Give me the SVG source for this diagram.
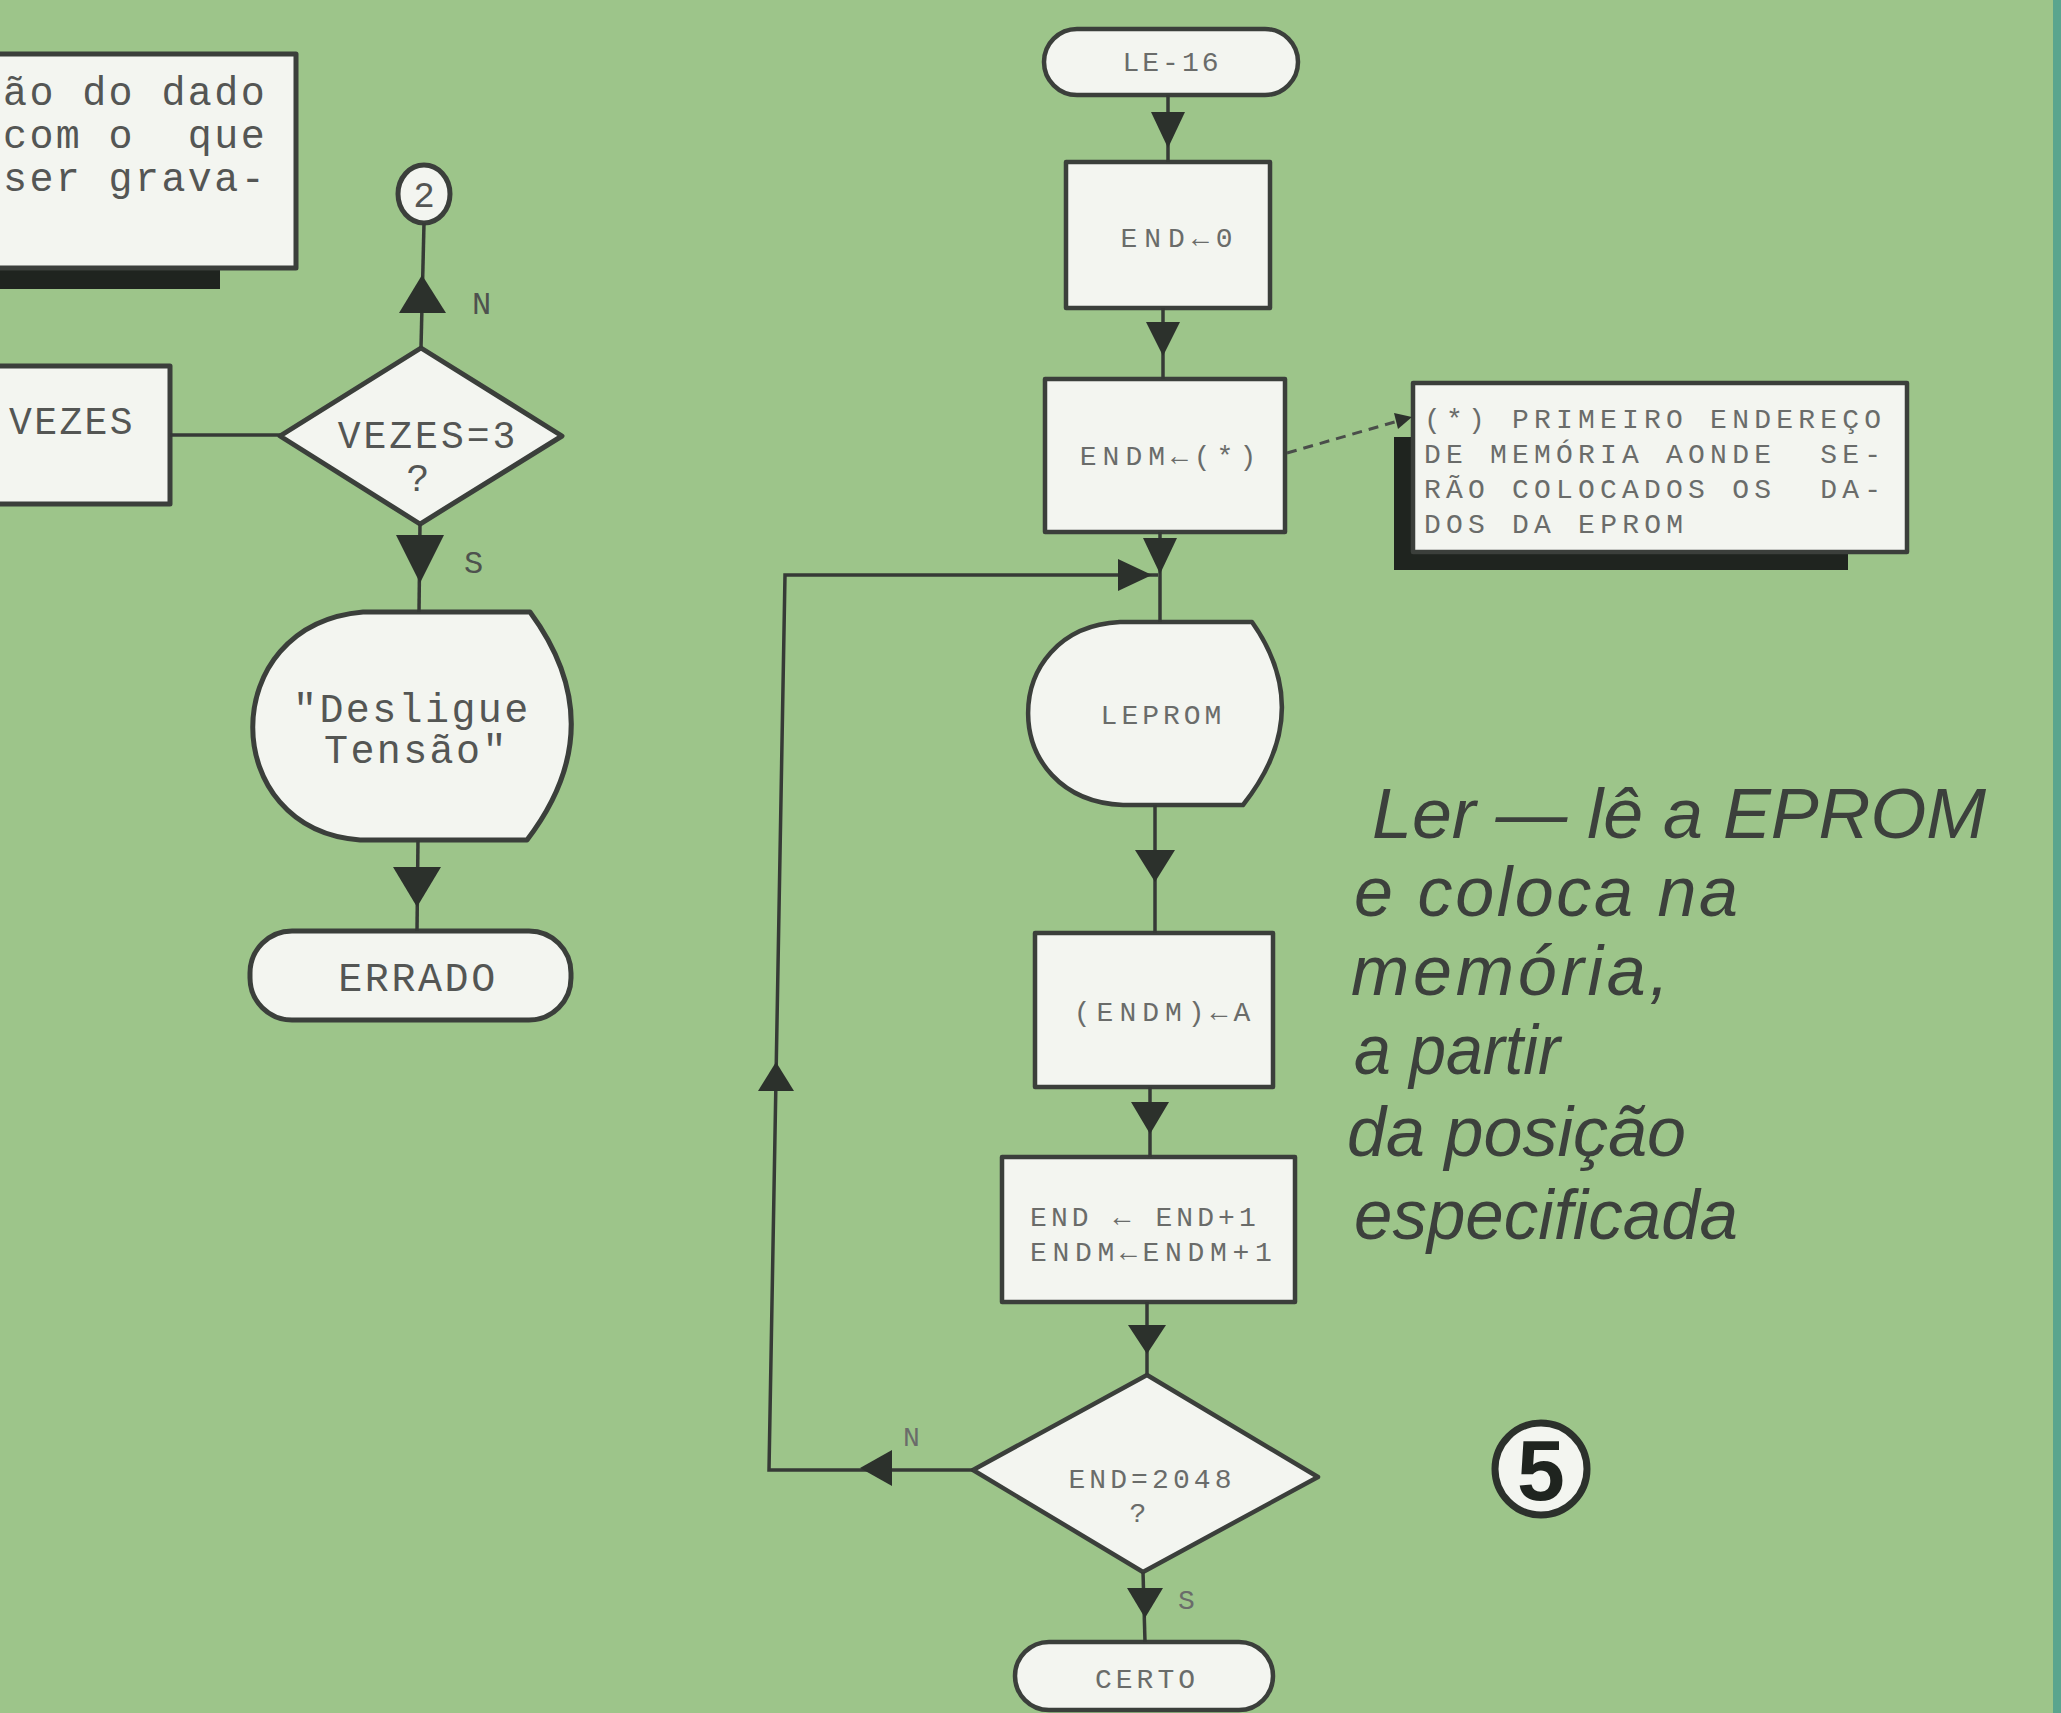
<svg xmlns="http://www.w3.org/2000/svg" width="2061" height="1713" viewBox="0 0 2061 1713">
<style>
.bg{fill:#9dc58a}
.box{fill:#f3f5f0;stroke:#3b3f3b;stroke-width:5;stroke-linejoin:round}
.boxr{fill:#f3f5f0;stroke:#3b3f3b;stroke-width:4.5;stroke-linejoin:round}
.shadow{fill:#1f241f}
.ln{fill:none;stroke:#363a36;stroke-width:3.5}
.dash{fill:none;stroke:#4a4e4a;stroke-width:3;stroke-dasharray:10 7}
.ah{fill:#2c312c}
.tw{font-family:"Liberation Mono","DejaVu Sans Mono",monospace;fill:#545654}
.tl{font-size:40px;letter-spacing:2.4px}
.tr{font-family:"Liberation Mono","DejaVu Sans Mono",monospace;fill:#6a6c6a;font-size:28px}
.lab{font-family:"Liberation Mono","DejaVu Sans Mono",monospace;fill:#4e524e;font-size:32px}
.it{font-family:"Liberation Sans",Arial,sans-serif;font-style:italic;font-size:70px;fill:#3c403c}
</style>
<rect class="bg" x="0" y="0" width="2061" height="1713"/>
<rect x="2053" y="0" width="8" height="1713" fill="#5aa58e"/>

<g id="note-top">
<rect class="shadow" x="-10" y="262" width="230" height="27"/>
<rect class="box" x="-10" y="54" width="306" height="214"/>
<text class="tw tl" x="3" y="105" xml:space="preserve">ão do dado</text>
<text class="tw tl" x="3" y="148" xml:space="preserve">com o  que</text>
<text class="tw tl" x="3" y="191" xml:space="preserve">ser grava-</text>
</g>

<g id="connector-2">
<ellipse class="box" cx="424" cy="194" rx="26" ry="29"/>
<text class="tw" x="424" y="207" font-size="36" text-anchor="middle">2</text>
</g>

<g id="vezes-box">
<rect class="box" x="-10" y="366" width="180" height="138"/>
<text class="tw" x="9" y="434" font-size="38" letter-spacing="2.4">VEZES</text>
</g>

<g id="vezes-dec">
<polygon class="box" points="421,348 562,436 420,524 280,436"/>
<text class="tw" x="428" y="448" font-size="38" letter-spacing="3" text-anchor="middle">VEZES=3</text>
<text class="tw" x="418" y="491" font-size="38" text-anchor="middle">?</text>
</g>

<g id="desligue">
<path class="box" d="M363,612 L530,612 Q614,726 527,840 L360,840 C218,830 215,625 363,612 Z"/>
<text class="tw tl" x="293" y="722" xml:space="preserve">"Desligue</text>
<text class="tw tl" x="324" y="763" xml:space="preserve">Tensão"</text>
</g>

<g id="errado">
<rect class="box" x="250" y="931" width="321" height="89" rx="42"/>
<text class="tw" x="418" y="991" font-size="40" letter-spacing="2.6" text-anchor="middle">ERRADO</text>
</g>

<g id="le16">
<rect class="boxr" x="1044" y="29" width="254" height="66" rx="33"/>
<text class="tr" x="1172" y="71" letter-spacing="3" text-anchor="middle">LE-16</text>
</g>

<g id="end0">
<rect class="boxr" x="1066" y="162" width="204" height="146"/>
<text class="tr" x="1180" y="247" font-size="30" letter-spacing="7" text-anchor="middle">END←0</text>
</g>

<g id="endm">
<rect class="boxr" x="1045" y="379" width="240" height="153"/>
<text class="tr" x="1171" y="465" letter-spacing="6" text-anchor="middle">ENDM←(*)</text>
</g>

<g id="note-endm">
<rect class="shadow" x="1394" y="437" width="454" height="133"/>
<rect class="boxr" x="1413" y="383" width="494" height="169"/>
<text class="tr" x="1424" y="428" font-size="28" textLength="457" lengthAdjust="spacing" xml:space="preserve">(*) PRIMEIRO ENDEREÇO</text>
<text class="tr" x="1424" y="463" font-size="28" textLength="457" lengthAdjust="spacing" xml:space="preserve">DE MEMÓRIA AONDE  SE-</text>
<text class="tr" x="1424" y="498" font-size="28" textLength="457" lengthAdjust="spacing" xml:space="preserve">RÃO COLOCADOS OS  DA-</text>
<text class="tr" x="1424" y="533" font-size="28" textLength="259" lengthAdjust="spacing" xml:space="preserve">DOS DA EPROM</text>
</g>

<g id="leprom">
<path class="boxr" d="M1120,622 L1252,622 Q1316,713 1243,805 L1123,805 C997,800 997,628 1120,622 Z"/>
<text class="tr" x="1163" y="724" letter-spacing="4" text-anchor="middle">LEPROM</text>
</g>

<g id="endm-a">
<rect class="boxr" x="1035" y="933" width="238" height="154"/>
<text class="tr" x="1165" y="1021" letter-spacing="6" text-anchor="middle">(ENDM)←A</text>
</g>

<g id="incr">
<rect class="boxr" x="1002" y="1157" width="293" height="145"/>
<text class="tr" x="1030" y="1226" letter-spacing="4.1" xml:space="preserve">END ← END+1</text>
<text class="tr" x="1030" y="1261" letter-spacing="5.7" xml:space="preserve">ENDM←ENDM+1</text>
</g>

<g id="end-dec">
<polygon class="boxr" points="1147,1375 1318,1477 1143,1572 973,1470"/>
<text class="tr" x="1152" y="1488" letter-spacing="4.1" text-anchor="middle">END=2048</text>
<text class="tr" x="1138" y="1522" text-anchor="middle">?</text>
</g>

<g id="certo">
<rect class="boxr" x="1015" y="1642" width="258" height="68" rx="34"/>
<text class="tr" x="1147" y="1688" letter-spacing="4" text-anchor="middle">CERTO</text>
</g>

<g id="caption">
<text class="it" x="1372" y="838" textLength="614" lengthAdjust="spacingAndGlyphs" xml:space="preserve">Ler — lê a EPROM</text>
<text class="it" x="1354" y="916" textLength="384" lengthAdjust="spacing">e coloca na</text>
<text class="it" x="1351" y="995" textLength="318" lengthAdjust="spacing">memória,</text>
<text class="it" x="1354" y="1074" textLength="206" lengthAdjust="spacingAndGlyphs">a partir</text>
<text class="it" x="1347" y="1156" textLength="339" lengthAdjust="spacing">da posição</text>
<text class="it" x="1354" y="1239" textLength="384" lengthAdjust="spacingAndGlyphs">especificada</text>
</g>

<g id="fig-number">
<circle cx="1541" cy="1469" r="46" fill="#f3f5f0" stroke="#2c312c" stroke-width="7"/>
<text x="1541" y="1500" font-family="Liberation Sans,Arial,sans-serif" font-weight="bold" font-size="86" fill="#1f241f" text-anchor="middle">5</text>
</g>

<g id="connectors">
<line class="ln" x1="424" y1="223" x2="421" y2="348"/>
<polygon class="ah" points="422,275 446,313 399,313"/>
<text class="lab" x="472" y="314">N</text>
<line class="ln" x1="170" y1="435" x2="280" y2="435"/>
<line class="ln" x1="420" y1="524" x2="419" y2="612"/>
<polygon class="ah" points="396,535 444,535 420,583"/>
<text class="lab" x="464" y="573">S</text>
<line class="ln" x1="418" y1="840" x2="417" y2="931"/>
<polygon class="ah" points="393,867 441,867 417,907"/>

<line class="ln" x1="1168" y1="95" x2="1168" y2="162"/>
<polygon class="ah" points="1151,112 1185,112 1168,148"/>
<line class="ln" x1="1163" y1="308" x2="1163" y2="379"/>
<polygon class="ah" points="1146,322 1180,322 1163,356"/>
<line class="ln" x1="1160" y1="532" x2="1160" y2="622"/>
<polygon class="ah" points="1143,538 1177,538 1160,574"/>
<line class="ln" x1="1155" y1="805" x2="1155" y2="933"/>
<polygon class="ah" points="1135,850 1175,850 1155,882"/>
<line class="ln" x1="1150" y1="1087" x2="1150" y2="1157"/>
<polygon class="ah" points="1131,1102 1169,1102 1150,1134"/>
<line class="ln" x1="1147" y1="1302" x2="1147" y2="1375"/>
<polygon class="ah" points="1128,1325 1166,1325 1147,1354"/>
<line class="ln" x1="1143" y1="1572" x2="1145" y2="1642"/>
<polygon class="ah" points="1127,1588 1163,1588 1145,1618"/>
<text class="tr" x="1178" y="1609" font-size="30">S</text>

<polyline class="ln" points="973,1470 769,1470 785,575 1158,575"/>
<polygon class="ah" points="860,1468 892,1450 892,1486"/>
<polygon class="ah" points="776,1062 794,1091 758,1091"/>
<polygon class="ah" points="1152,575 1118,559 1118,591"/>
<text class="tr" x="903" y="1446" font-size="26">N</text>

<line class="dash" x1="1287" y1="453" x2="1398" y2="421"/>
<polygon class="ah" points="1412,417 1394,413 1398,429"/>
</g>
</svg>
